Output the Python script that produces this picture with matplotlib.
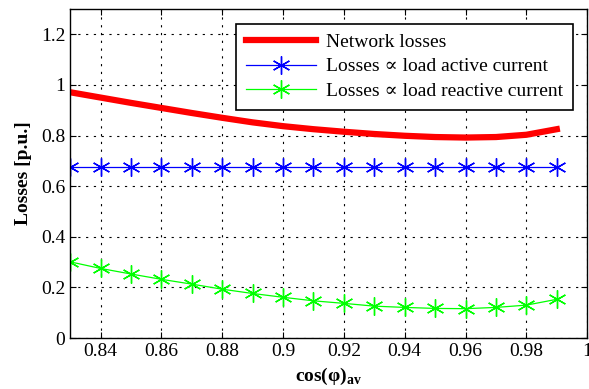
import numpy as np
import matplotlib.pyplot as plt

plt.rcParams['font.family'] = ['Liberation Serif', 'DejaVu Serif']
plt.rcParams['mathtext.fontset'] = 'custom'
plt.rcParams['mathtext.rm'] = 'Liberation Serif'
plt.rcParams['mathtext.bf'] = 'Liberation Serif:bold'

cosphi = [0.83, 0.84, 0.85, 0.86, 0.87, 0.88, 0.89, 0.90, 0.91,
          0.92, 0.93, 0.94, 0.95, 0.96, 0.97, 0.98, 0.99]
network = [0.971, 0.950, 0.929, 0.909, 0.889, 0.870, 0.852, 0.837, 0.825,
           0.815, 0.806, 0.799, 0.794, 0.792, 0.794, 0.803, 0.825]
active = [0.675] * 17
reactive = [0.301, 0.275, 0.253, 0.232, 0.213, 0.193, 0.176, 0.161, 0.147,
            0.137, 0.126, 0.121, 0.117, 0.116, 0.121, 0.130, 0.153]

asterisk = (6, 2, 0)

fig = plt.figure(figsize=(5.89, 3.89), dpi=100)
ax = fig.add_axes([0.119, 0.131, 0.878, 0.846])

ax.plot(cosphi, network, color='red', linewidth=4.5, label='Network losses')
ax.plot(cosphi, active, color='blue', linewidth=0.9, marker=asterisk,
        markersize=13, markeredgewidth=1.0, label='Losses ∝ load active current')
ax.plot(cosphi, reactive, color='#00ff00', linewidth=0.9, marker=asterisk,
        markersize=13, markeredgewidth=1.0, label='Losses ∝ load reactive current')

ax.set_xlim(0.83, 1.0)
ax.set_ylim(0, 1.3)
ax.set_xticks(np.arange(0.84, 1.001, 0.02))
ax.set_xticklabels(['0.84', '0.86', '0.88', '0.9', '0.92', '0.94', '0.96', '0.98', '1'])
ax.set_yticks(np.arange(0, 1.21, 0.2))
ax.set_yticklabels(['0', '0.2', '0.4', '0.6', '0.8', '1', '1.2'])
ax.tick_params(direction='in', top=True, right=True, labelsize=14, length=4)
ax.grid(True, color='black', linestyle=(0, (2, 5)), linewidth=0.8)
for s in ax.spines.values():
    s.set_linewidth(1.0)

ax.set_ylabel('Losses [p.u.]', fontsize=14, fontweight='bold', labelpad=6)
ax.set_xlabel(r'cos(φ)$_{\mathbf{av}}$', fontsize=14, fontweight='bold', labelpad=4)

leg = ax.legend(loc='upper right', fontsize=14, fancybox=False, framealpha=1,
                edgecolor='black', borderaxespad=0.75, handlelength=3.6,
                handletextpad=0.5, labelspacing=0.36, borderpad=0.5)
leg.get_frame().set_linewidth(1.2)

fig.savefig('out.png', dpi=100)
